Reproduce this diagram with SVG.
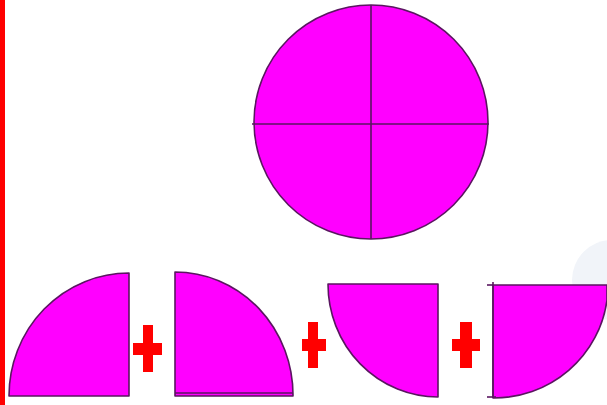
<svg xmlns="http://www.w3.org/2000/svg" width="607" height="405" viewBox="0 0 607 405">
<style>
.piece{fill:#ff00ff;stroke:#5a1660;stroke-width:1.6;stroke-linejoin:round}
.line{stroke:#5a1660;stroke-width:1.6;fill:none}
.plus{fill:#ff0000}
</style>
<rect width="607" height="405" fill="#ffffff"/>
<circle cx="612" cy="280" r="40" fill="#f1f4f9"/>
<rect x="0" y="0" width="5" height="405" fill="#ff0000"/>
<g id="whole-circle">
<circle class="piece" cx="371" cy="122" r="117"/>
<line class="line" x1="371" y1="5" x2="371" y2="239"/>
<line class="line" x1="252" y1="124" x2="489" y2="124"/>
</g>
<g id="quarter-1">
<path class="piece" d="M129,396 L9,396 A120,123 0 0 1 129,273 Z"/>
</g>
<g id="plus-1"><path class="plus" d="M143,325 H153 V343 H162 V355 H153 V372 H143 V355 H133 V343 H143 Z"/></g>
<g id="quarter-2">
<path class="piece" d="M175,272 A118,123 0 0 1 293,396 L175,396 Z"/>
<line class="line" x1="175" y1="393" x2="293" y2="393"/>
</g>
<g id="plus-2"><path class="plus" d="M308,322 H318 V339 H326 V351 H318 V368 H308 V351 H302 V339 H308 Z"/></g>
<g id="quarter-3">
<path class="piece" d="M328,284 L438,284 L438,397 A110,113 0 0 1 328,284 Z"/>
</g>
<g id="plus-3"><path class="plus" d="M460,322 H472 V339 H480 V351 H472 V368 H460 V351 H452 V339 H460 Z"/></g>
<g id="quarter-4">
<path class="piece" d="M493,285 L607,285 L607,300 A114,113 0 0 1 493,398 Z"/>
<line class="line" x1="493" y1="282" x2="493" y2="398"/>
<line class="line" x1="487" y1="285" x2="493" y2="285"/>
<line class="line" x1="487" y1="397" x2="496" y2="397"/>
</g>
</svg>
